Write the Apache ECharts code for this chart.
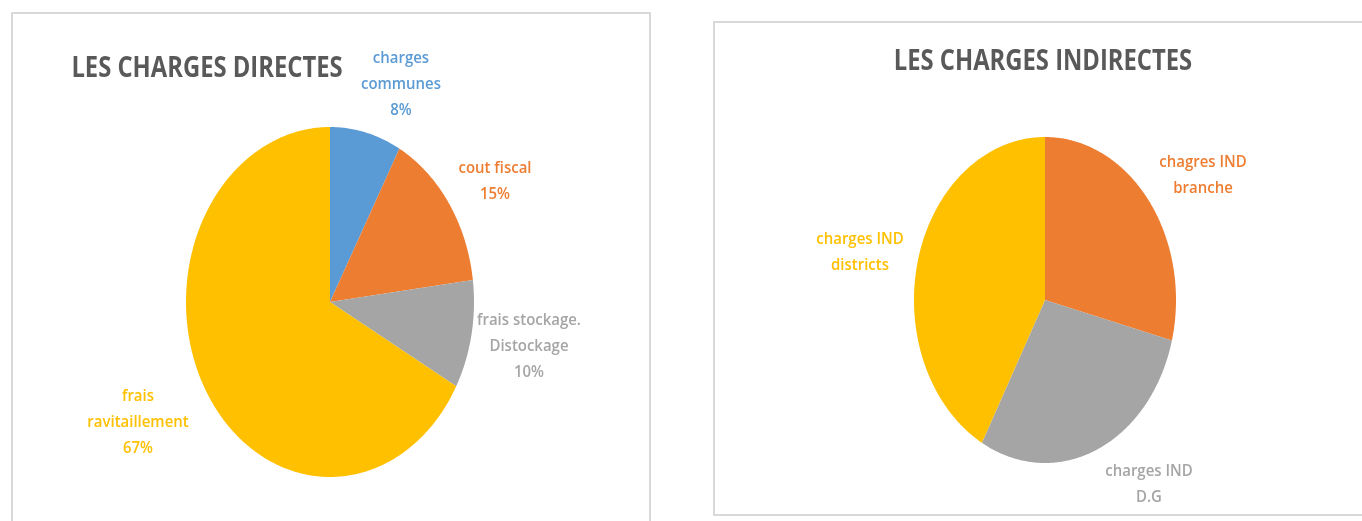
<!DOCTYPE html>
<html>
<head>
<meta charset="utf-8">
<script src="https://cdn.jsdelivr.net/npm/echarts@6/dist/echarts.min.js"></script>
<style>
  html, body { margin: 0; padding: 0; background: #fff; }
  #chart { width: 1362px; height: 521px; }
</style>
</head>
<body>
<div id="chart"></div>
<script>
  // charges directes
  var directNames = ['charges\ncommunes', 'cout fiscal', 'frais stockage.\nDistockage', 'frais\nravitaillement'];
  var directValues = [8, 15, 10, 67];
  var directColors = ['#5B9BD5', '#ED7D31', '#A5A5A5', '#FFC000'];

  // charges indirectes
  var indirectNames = ['chagres IND\nbranche', 'charges IND\nD.G', 'charges IND\ndistricts'];
  var indirectValues = [29, 29, 42];
  var indirectColors = ['#ED7D31', '#A5A5A5', '#FFC000'];

  // where excel put the data labels (centre of each label block)
  var directLabelPos = [[401, 84], [495, 181], [529, 346], [138, 422]];
  var indirectLabelPos = [[1203, 175], [1149, 484], [860, 252]];

  var FONT = '"Open Sans", sans-serif';

  // pie drawn as an ellipse (the excel picture is stretched vertically)
  function ellipsePie(values, names, colors, labelPos, cx, cy, rx, ry, showPct) {
    var total = values.reduce(function (a, b) { return a + b; }, 0);
    return function (params, api) {
      var i = params.dataIndex;
      var start = 0;
      for (var j = 0; j < i; j++) start += values[j];
      var v = api.value(0);
      var a0 = start / total * Math.PI * 2;
      var a1 = (start + v) / total * Math.PI * 2;
      var pts = [[cx, cy]];
      var n = Math.max(2, Math.ceil((a1 - a0) / 0.01));
      for (var k = 0; k <= n; k++) {
        var t = a0 + (a1 - a0) * k / n;
        pts.push([cx + rx * Math.sin(t), cy - ry * Math.cos(t)]);
      }
      var txt = names[i] + (showPct ? '\n' + Math.round(v / total * 100) + '%' : '');
      return {
        type: 'group',
        children: [
          { type: 'polygon', shape: { points: pts }, style: { fill: colors[i] } },
          {
            type: 'text', x: labelPos[i][0], y: labelPos[i][1], scaleX: 0.88,
            style: {
              text: txt, fill: colors[i], fontSize: 17, fontWeight: 600, fontFamily: FONT,
              align: 'center', verticalAlign: 'middle', lineHeight: 26
            }
          }
        ]
      };
    };
  }

  var chart = echarts.init(document.getElementById('chart'));
  chart.setOption({
    animation: false,
    graphic: [
      { type: 'rect', shape: { x: 12, y: 13, width: 638, height: 530 }, style: { fill: 'none', stroke: '#D9D9D9', lineWidth: 2 } },
      { type: 'rect', shape: { x: 714, y: 22, width: 680, height: 493 }, style: { fill: 'none', stroke: '#D9D9D9', lineWidth: 2 } },
      {
        type: 'text', x: 207, y: 69, scaleX: 0.82,
        style: { text: 'LES CHARGES DIRECTES', fill: '#595959', fontSize: 29, fontWeight: 700, fontFamily: FONT, align: 'center', verticalAlign: 'middle' }
      },
      {
        type: 'text', x: 1043, y: 62, scaleX: 0.82,
        style: { text: 'LES CHARGES INDIRECTES', fill: '#595959', fontSize: 29, fontWeight: 700, fontFamily: FONT, align: 'center', verticalAlign: 'middle' }
      }
    ],
    series: [
      {
        type: 'custom', coordinateSystem: 'none',
        renderItem: ellipsePie(directValues, directNames, directColors, directLabelPos, 330, 302, 144, 175, true),
        data: directValues.map(function (v) { return [v]; })
      },
      {
        type: 'custom', coordinateSystem: 'none',
        renderItem: ellipsePie(indirectValues, indirectNames, indirectColors, indirectLabelPos, 1045, 300, 131, 163, false),
        data: indirectValues.map(function (v) { return [v]; })
      }
    ]
  });
</script>
</body>
</html>
